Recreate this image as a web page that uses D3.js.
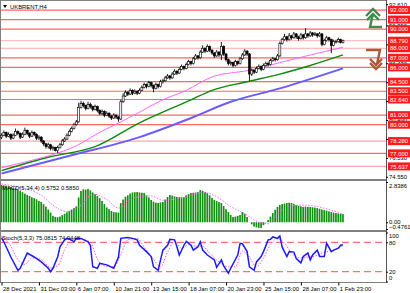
<!DOCTYPE html>
<html>
<head>
<meta charset="utf-8">
<script src="https://cdn.jsdelivr.net/npm/d3@7"></script>
<style>
  body { margin: 0; background: #fff; }
  svg { display: block; }
  text { font-family: "Liberation Sans", Arial, sans-serif; }
</style>
</head>
<body>
<svg id="chart" width="410" height="293"></svg>
<script>
// ---- data ----
const opens = [78.7,78.9,79.2,78.8,79.0,78.6,78.9,79.3,79.1,78.7,79.0,79.4,79.1,78.8,79.2,79.0,78.6,78.7,78.3,78.0,
  77.7,77.9,77.5,77.6,77.3,77.6,77.9,78.3,78.5,78.9,79.3,79.6,80.0,80.3,81.8,82.2,82.0,81.7,82.1,81.9,
  81.6,81.9,81.5,81.2,81.4,81.0,81.2,80.9,80.7,81.0,80.8,80.6,82.4,83.0,83.4,83.2,83.6,83.3,83.5,83.3,
  83.6,83.9,84.2,84.0,84.4,84.1,83.8,84.2,84.0,84.5,84.6,84.9,85.1,84.9,85.3,85.6,85.4,85.8,86.1,85.9,
  86.3,86.6,86.4,86.9,87.2,87.0,87.6,88.0,87.7,88.2,87.8,87.5,87.2,87.6,87.3,88.2,87.4,86.8,86.4,86.5,
  86.2,86.6,86.4,86.9,87.3,87.7,87.4,85.3,85.7,85.5,85.9,86.1,85.8,86.2,86.4,86.3,86.7,86.9,86.8,87.2,
  88.5,88.9,89.2,88.9,89.3,89.1,89.5,89.2,89.0,89.4,89.1,89.5,89.3,89.6,89.4,89.5,89.3,89.5,88.4,88.8,
  89.1,88.9,88.3,88.7,88.7,88.9,88.6];
const highs = [79.1,79.4,79.3,79.2,79.1,79.1,79.6,79.4,79.2,79.2,79.7,79.5,79.2,79.4,79.3,79.1,78.9,78.8,78.4,78.1,
  78.1,78.0,77.8,77.7,77.8,78.1,78.5,78.7,79.1,79.5,79.8,80.2,80.5,82.3,82.5,82.4,82.1,82.4,82.3,82.0,
  82.1,82.0,81.6,81.6,81.5,81.4,81.3,81.0,81.2,81.1,80.9,82.6,83.3,83.6,83.5,83.8,83.7,83.7,83.6,83.8,
  84.1,84.4,84.3,84.6,84.5,84.2,84.4,84.3,84.7,84.8,85.1,85.3,85.2,85.5,85.8,85.7,86.0,86.3,86.2,86.5,
  86.8,86.7,87.1,87.4,87.3,87.8,88.3,88.1,88.4,88.3,87.9,87.6,87.8,87.7,88.65,88.3,87.5,86.9,86.7,86.6,
  86.8,86.7,87.1,87.5,87.9,87.8,87.5,85.9,85.8,86.1,86.3,86.2,86.4,86.6,86.6,86.9,87.1,87.0,87.4,88.7,
  89.1,89.5,89.3,89.6,89.4,89.7,89.6,89.3,89.6,89.5,90.1,89.6,89.8,89.7,89.7,89.6,89.7,89.6,89.0,89.3,
  89.2,89.0,88.9,88.9,89.1,89.0,88.9];
const lows = [78.5,78.8,78.6,78.7,78.4,78.5,78.8,78.9,78.5,78.6,78.9,78.9,78.6,78.7,78.8,78.4,78.4,78.1,77.8,77.5,
  77.5,77.3,77.3,77.2,77.04,77.5,77.8,78.2,78.4,78.8,79.2,79.5,79.9,80.2,81.7,81.8,81.5,81.6,81.7,81.4,
  81.5,81.3,81.0,81.0,80.8,80.9,80.7,80.5,80.6,80.6,80.3,80.5,82.3,82.9,83.0,83.1,83.1,83.2,83.1,83.2,
  83.5,83.8,83.8,83.9,83.9,83.4,83.7,83.8,83.9,84.3,84.5,84.8,84.7,84.8,85.2,85.2,85.3,85.7,85.7,85.8,
  86.2,86.2,86.3,86.8,86.8,86.9,87.5,87.5,87.6,87.6,87.3,87.0,87.1,87.1,86.77,87.2,86.6,86.2,86.2,86.0,
  86.1,86.2,86.3,86.8,87.2,87.2,84.6,85.1,85.3,85.4,85.8,85.6,85.7,86.1,86.1,86.2,86.6,86.6,86.7,87.1,
  88.4,88.8,88.7,88.8,88.9,89.0,89.0,88.8,88.9,88.9,89.0,89.1,89.2,89.2,89.3,89.1,89.2,88.2,88.3,88.7,
  88.7,87.5,88.2,88.5,88.6,88.5,88.5];
const closes = [78.9,79.2,78.8,79.0,78.6,78.9,79.3,79.1,78.7,79.0,79.4,79.1,78.8,79.2,79.0,78.6,78.7,78.3,78.0,77.7,
  77.9,77.5,77.6,77.3,77.6,77.9,78.3,78.5,78.9,79.3,79.6,80.0,80.3,81.8,82.2,82.0,81.7,82.1,81.9,81.6,
  81.9,81.5,81.2,81.4,81.0,81.2,80.9,80.7,81.0,80.8,80.6,82.4,83.0,83.4,83.2,83.6,83.3,83.5,83.3,83.6,
  83.9,84.2,84.0,84.4,84.1,83.8,84.2,84.0,84.5,84.6,84.9,85.1,84.9,85.3,85.6,85.4,85.8,86.1,85.9,86.3,
  86.6,86.4,86.9,87.2,87.0,87.6,88.0,87.7,88.2,87.8,87.5,87.2,87.6,87.3,88.2,87.4,86.8,86.4,86.5,86.2,
  86.6,86.4,86.9,87.3,87.7,87.4,85.3,85.7,85.5,85.9,86.1,85.8,86.2,86.4,86.3,86.7,86.9,86.8,87.2,88.5,
  88.9,89.2,88.9,89.3,89.1,89.5,89.2,89.0,89.4,89.1,89.5,89.3,89.6,89.4,89.5,89.3,89.5,88.4,88.8,89.1,
  88.9,88.3,88.7,88.7,88.9,88.6,88.79];

// moving averages (bar index, price)
const maPinkIdx = [0,10,21,32,42,51,59,68,79,90,106,119,132,146];
const maPink = [75.5,76.1,76.8,77.8,79.2,80.3,81.3,82.5,83.6,85.0,85.7,86.5,87.3,88.1];
const maGreenIdx = [0,20,40,59,81,90,105,119,132,146];
const maGreen = [75.2,76.6,77.7,80.2,82.6,83.6,84.5,85.3,86.2,87.3];
const maBlueIdx = [0,30,59,80,98,119,146];
const maBlue = [74.9,76.8,78.7,80.6,82.4,83.8,85.9];

// horizontal levels with labels
const levels = [92.0,91.0,90.0,88.0,87.0,86.0,84.5,83.5,82.64,81.0,80.0,78.28,77.0,75.637];
const levelLabels = ["92.000","91.000","90.000","88.000","87.000","86.000","84.500","83.500","82.640","81.000","80.000","78.280","77.000","75.637"];
const paleLevels = [88.0,78.28,75.637];
const bidPrice = 88.79;
const priceTicks = [92.61,90.39,88.41,86.43,84.45,82.47,80.49,78.51,76.53,74.55];

// MACD histogram per bar + signal
const macd = [2.63,2.60,2.58,2.52,2.49,2.45,2.40,2.30,2.20,2.12,2.02,1.93,1.85,1.76,1.70,1.62,1.50,1.43,1.28,1.10,
  0.90,0.68,0.45,0.38,0.36,0.40,0.50,0.60,0.70,0.80,0.90,1.00,1.12,1.75,2.20,2.32,2.30,2.35,2.25,2.10,
  1.98,1.85,1.70,1.50,1.28,1.05,0.92,0.80,0.72,0.70,0.68,1.35,1.60,1.80,1.90,2.02,2.10,2.12,2.13,2.10,
  2.08,2.06,1.90,1.75,1.57,1.45,1.38,1.36,1.40,1.43,1.60,1.78,1.92,1.88,1.82,1.78,1.76,1.77,1.78,1.90,
  1.98,2.06,2.08,2.10,2.13,2.27,2.22,2.14,2.06,1.90,1.72,1.57,1.50,1.42,1.36,1.15,0.92,0.72,0.52,0.37,
  0.40,0.45,0.51,0.72,0.60,0.37,0.00,-0.15,-0.30,-0.36,-0.40,-0.40,-0.20,-0.02,0.16,0.40,0.65,0.88,1.08,1.22,
  1.28,1.32,1.36,1.38,1.36,1.30,1.22,1.16,1.12,1.08,1.10,1.09,1.08,1.06,1.03,1.00,0.95,0.90,0.86,0.82,
  0.77,0.72,0.68,0.65,0.62,0.60,0.575];
const macdSigIdx = [0,8,17,22,28,34,39,45,50,56,64,69,78,86,92,98,104,110,114,118,124,130,140,146];
const macdSig = [2.7,2.45,1.9,1.2,0.75,1.2,2.0,1.6,1.0,1.7,1.85,1.55,1.75,2.1,1.8,1.1,0.6,0.0,-0.1,0.6,1.2,1.2,0.9,0.585];

// Stochastic main + signal
const stochIdx = [0,1,4,7,8,11,14,17,20,21,22,24,25,27,28,29,31,32,34,37,38,39,41,42,45,48,50,51,54,56,58,59,
  62,64,65,67,68,69,71,72,74,75,76,78,79,81,82,84,85,86,88,91,92,94,95,97,98,101,102,103,105,106,108,109,
  111,112,114,115,116,118,119,120,122,123,125,126,128,129,131,132,133,135,136,138,139,141,142,144,145,146];
const stochMain = [89,81,50,23,27,58,50,40,27,20,27,50,71,85,88,87,81,88,88,81,74,30,27,37,34,27,50,88,90,88,85,74,
  61,51,30,23,44,64,74,86,85,71,54,74,82,74,64,71,81,64,54,44,29,44,32,17,27,54,78,77,61,30,23,40,
  51,61,85,86,91,88,93,70,51,61,60,47,38,51,58,44,54,64,51,51,78,61,64,68,74,75.08];
const stochSigIdx = [0,3,7,10,13,17,21,24,27,30,34,38,41,44,48,51,54,58,61,65,68,71,74,77,80,83,86,89,93,97,100,103,
  106,109,112,115,118,121,124,128,131,134,137,140,143,146];
const stochSig = [92,80,45,35,48,45,28,32,65,85,86,80,45,32,30,55,85,88,70,45,30,60,82,68,75,72,72,58,40,30,30,62,
  50,30,48,75,88,78,58,48,50,52,58,62,66,74.04];

const timeIdx = [0,16,32,48,64,80,96,112,128,144];
const timeLabels = ["28 Dec 2021","31 Dec 03:00","6 Jan 07:00","10 Jan 21:00","13 Jan 15:00",
  "18 Jan 07:00","20 Jan 23:00","25 Jan 15:00","28 Jan 07:00","1 Feb 23:00"];

// ---- layout ----
const axisX = 386;
const svg = d3.select("#chart");
const fs = 5.9;

const x = d3.scaleLinear().domain([0, 146]).range([1.5, 343]);
const yMain = d3.scaleLinear().domain([74.55, 92.61]).range([176.8, 4.2]);
const yMacd = d3.scaleLinear().domain([-0.4761, 2.8386]).range([229, 182]);
const yStoch = d3.scaleLinear().domain([0, 100]).range([281.5, 232.5]);

// panel frames
const frame = svg.append("g").attr("stroke", "#808080").attr("fill", "none");
frame.append("line").attr("x1", 0).attr("x2", axisX).attr("y1", 0.5).attr("y2", 0.5);
frame.append("line").attr("x1", 0).attr("x2", axisX).attr("y1", 180).attr("y2", 180).attr("stroke-width", 2);
frame.append("line").attr("x1", 0).attr("x2", axisX).attr("y1", 231).attr("y2", 231).attr("stroke-width", 2);
frame.append("line").attr("x1", 0).attr("x2", axisX).attr("y1", 282.5).attr("y2", 282.5);
frame.append("line").attr("x1", 0.5).attr("x2", 0.5).attr("y1", 0).attr("y2", 282.5);
frame.append("line").attr("x1", axisX + 0.5).attr("x2", axisX + 0.5).attr("y1", 0).attr("y2", 282.5).attr("stroke", "#555");

// main panel: levels
svg.append("g").selectAll("line").data(levels).enter().append("line")
  .attr("x1", 1).attr("x2", axisX)
  .attr("y1", d => yMain(d)).attr("y2", d => yMain(d))
  .attr("stroke", d => paleLevels.includes(d) ? "#ffa8a8" : "#ff6666")
  .attr("stroke-width", 1.2);
svg.append("line").attr("x1", 1).attr("x2", axisX)
  .attr("y1", yMain(bidPrice)).attr("y2", yMain(bidPrice))
  .attr("stroke", "#ffb0b0").attr("stroke-width", 1);

// moving averages
const maLine = (idx) => d3.line().x((d, i) => x(idx[i])).y(d => yMain(d)).curve(d3.curveMonotoneX);
svg.append("path").attr("d", maLine(maBlueIdx)(maBlue)).attr("fill", "none").attr("stroke", "#6a5cff").attr("stroke-width", 2);
svg.append("path").attr("d", maLine(maGreenIdx)(maGreen)).attr("fill", "none").attr("stroke", "#0a8a0a").attr("stroke-width", 1.4);
svg.append("path").attr("d", maLine(maPinkIdx)(maPink)).attr("fill", "none").attr("stroke", "#ff66ff").attr("stroke-width", 1);

// candles
const candles = svg.append("g");
closes.forEach((c, i) => {
  const o = opens[i], cx = x(i);
  candles.append("line").attr("x1", cx).attr("x2", cx)
    .attr("y1", yMain(highs[i])).attr("y2", yMain(lows[i]))
    .attr("stroke", "#000").attr("stroke-width", 0.9);
  const top = yMain(Math.max(o, c)), bot = yMain(Math.min(o, c));
  candles.append("rect").attr("x", cx - 1).attr("width", 2)
    .attr("y", top).attr("height", Math.max(0.7, bot - top))
    .attr("fill", c >= o ? "#fff" : "#000").attr("stroke", "#000").attr("stroke-width", 0.6);
});

// price axis
const yAxis = svg.append("g").attr("transform", `translate(${axisX},0)`)
  .call(d3.axisRight(yMain).tickValues(priceTicks).tickFormat(d3.format(".3f")).tickSize(2));
yAxis.select(".domain").remove();
yAxis.selectAll("text").attr("font-size", fs).attr("fill", "#000").attr("x", 3);

// level labels
const lab = svg.append("g");
levels.forEach((d, i) => {
  const yy = yMain(d);
  lab.append("rect").attr("x", axisX + 2).attr("y", yy - 4).attr("width", 26).attr("height", 8).attr("fill", "#ff1a1a");
  lab.append("text").attr("x", axisX + 4).attr("y", yy + 2.2).attr("font-size", fs).attr("fill", "#fff").text(levelLabels[i]);
});
lab.append("rect").attr("x", axisX + 2).attr("y", yMain(bidPrice) - 4).attr("width", 26).attr("height", 8).attr("fill", "#ff1a1a");
lab.append("text").attr("x", axisX + 4).attr("y", yMain(bidPrice) + 2.2).attr("font-size", fs).attr("fill", "#fff").text("88.790");

// arrows
svg.append("path").attr("d", "M366,16 L373,9 L380,16 M367,20 L373,14 L379,20 M373,14 L370,27 L382,27")
  .attr("fill", "none").attr("stroke", "#3d8b4e").attr("stroke-width", 2.4);
svg.append("path").attr("d", "M366,50 L380,50 L377,64 M370,59 L376,65 L382,59 M370,63 L376,69 L382,63")
  .attr("fill", "none").attr("stroke", "#a65a36").attr("stroke-width", 2.4);

// title
svg.append("path").attr("d", "M3,5 L7,5 L5,8 Z").attr("fill", "#000");
svg.append("text").attr("x", 10).attr("y", 8.5).attr("font-size", fs).text("UKBRENT,H4");

// MACD panel
const macdG = svg.append("g");
macdG.selectAll("rect").data(macd).enter().append("rect")
  .attr("x", (d, i) => x(i) - 0.9).attr("width", 1.7)
  .attr("y", d => yMacd(Math.max(0, d)))
  .attr("height", d => Math.abs(yMacd(d) - yMacd(0)))
  .attr("fill", "#138f13");
macdG.append("path").attr("d", d3.line().x((d, i) => x(macdSigIdx[i])).y(d => yMacd(d)).curve(d3.curveMonotoneX)(macdSig))
  .attr("fill", "none").attr("stroke", "#ff66ff").attr("stroke-width", 1).attr("stroke-dasharray", "1.5,1.5");
svg.append("text").attr("x", 2).attr("y", 189.5).attr("font-size", fs).text("MACD(5,34,4) 0.5752 0.5850");
const macdAxis = svg.append("g").attr("transform", `translate(${axisX},0)`)
  .call(d3.axisRight(yMacd).tickValues([2.8386, 0, -0.4761])
    .tickFormat(d => d === 0 ? "0.00" : d3.format(".4f")(d)).tickSize(2));
macdAxis.select(".domain").remove();
macdAxis.selectAll("text").attr("font-size", fs).attr("fill", "#000").attr("x", 3)
  .attr("dy", d => d > 2 ? "0.85em" : d < 0 ? "-0.05em" : "0.2em");

// Stochastic panel
svg.append("g").selectAll("line").data([80, 20]).enter().append("line")
  .attr("x1", 1).attr("x2", axisX).attr("y1", d => yStoch(d)).attr("y2", d => yStoch(d))
  .attr("stroke", "#ff7070").attr("stroke-width", 1.2).attr("stroke-dasharray", "7,4");
svg.append("path").attr("d", d3.line().x((d, i) => x(stochSigIdx[i])).y(d => yStoch(d)).curve(d3.curveMonotoneX)(stochSig))
  .attr("fill", "none").attr("stroke", "#ff55cc").attr("stroke-width", 1).attr("stroke-dasharray", "1.5,1.5");
svg.append("path").attr("d", d3.line().x((d, i) => x(stochIdx[i])).y(d => yStoch(d))(stochMain))
  .attr("fill", "none").attr("stroke", "#1a1aff").attr("stroke-width", 1.5);
svg.append("text").attr("x", 2).attr("y", 240).attr("font-size", fs).text("Stoch(5,3,3) 75.0815 74.0448");
const stAxis = svg.append("g").attr("transform", `translate(${axisX},0)`)
  .call(d3.axisRight(yStoch).tickValues([100, 80, 20, 0]).tickSize(2));
stAxis.select(".domain").remove();
stAxis.selectAll("text").attr("font-size", fs).attr("fill", "#000").attr("x", 3)
  .attr("dy", d => d === 100 ? "0.9em" : d === 0 ? "-0.3em" : "0.32em");

// time axis
const xAxis = svg.append("g").attr("transform", "translate(0,282.5)")
  .call(d3.axisBottom(x).tickValues(timeIdx).tickFormat((d, i) => timeLabels[i]).tickSize(3));
xAxis.select(".domain").remove();
xAxis.selectAll("text").attr("font-size", fs).attr("fill", "#000")
  .attr("text-anchor", "start").attr("x", 1).attr("y", 4);
</script>
</body>
</html>
